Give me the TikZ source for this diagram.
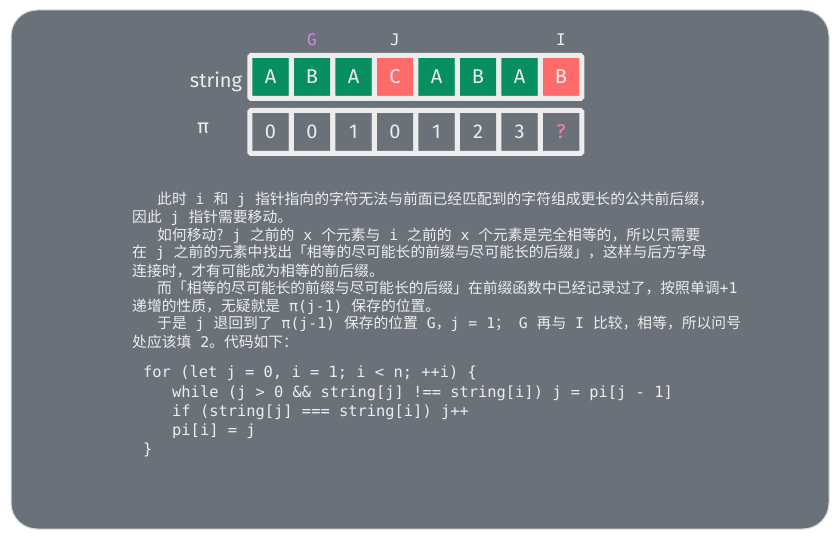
\documentclass[tikz,border=0pt]{standalone}
\usepackage{fontspec}
\setmainfont{Noto Sans CJK SC}
\newfontfamily\monof{DejaVu Sans Mono}
\newfontfamily\handf{Fira Sans}
\definecolor{bgc}{HTML}{6B7179}
\definecolor{grn}{HTML}{078F60}
\definecolor{redc}{HTML}{FF6B6B}
\definecolor{fg}{HTML}{EDEDED}
\definecolor{pinkq}{HTML}{F783AC}
\definecolor{vio}{HTML}{D08AE0}
\newcommand\m[1]{{\monof\fontsize{14.8}{17}\selectfont #1}}
\tikzset{
  cellbox/.style={minimum width=41.5pt, minimum height=43pt, draw=fg, line width=5pt,
    inner sep=0pt, rounded corners=1.5pt, text=fg, font=\handf\fontsize{20}{20}\selectfont},
  toplbl/.style={inner sep=0pt, font=\monof\fontsize{16}{16}\selectfont},
  rowlbl/.style={inner sep=0pt, text=fg, font=\handf\fontsize{20}{20}\selectfont},
  para/.style={inner sep=0pt, anchor=west, text=fg, font=\fontsize{14.8}{17}\selectfont},
  code/.style={inner sep=0pt, anchor=west, text=fg, font=\monof\fontsize{15.4}{17}\selectfont}
}
\begin{document}
\begin{tikzpicture}[x=1pt,y=-1pt]
\useasboundingbox (0,0) rectangle (840,540);
\draw[draw=fg!85!gray, line width=1pt, fill=bgc, rounded corners=26pt] (11,10) rectangle (829,529);
% string row
\foreach \ch/\c [count=\i] in {A/grn,B/grn,A/grn,C/redc,A/grn,B/grn,A/grn,B/redc}
  \node[cellbox, fill=\c] (s\i) at ({270.5+41.5*(\i-1)},77) {\ch};
% pi row
\foreach \ch/\c [count=\i] in {0/fg,0/fg,1/fg,0/fg,1/fg,2/fg,3/fg,?/pinkq}
  \node[cellbox, fill=bgc, text=\c] (p\i) at ({270.5+41.5*(\i-1)},132) {\ch};
% labels
\node[rowlbl] (lstr) at (216,82) {string};
\node[rowlbl] (lpi) at (203,128) {π};
\node[toplbl, text=vio] (lg) at (s2.center |- 0,40) {G};
\node[toplbl, text=fg] (lj) at (s4.center |- 0,40) {J};
\node[toplbl, text=fg] (li) at (s8.center |- 0,40) {I};
% paragraph
\node[para] (t1) at (157,200) {此时\m{~i~}和\m{~j~}指针指向的字符无法与前面已经匹配到的字符组成更长的公共前后缀，};
\node[para] (t2) at (132,218) {因此\m{~j~}指针需要移动。};
\node[para] (t3) at (157,235.5) {如何移动?\m{~j~}之前的\m{~x~}个元素与\m{~i~}之前的\m{~x~}个元素是完全相等的，所以只需要};
\node[para] (t4) at (132,253) {在\m{~j~}之前的元素中找出「相等的尽可能长的前缀与尽可能长的后缀」，这样与后方字母};
\node[para] (t5) at (132,271) {连接时，才有可能成为相等的前后缀。};
\node[para] (t6) at (157,288.5) {而「相等的尽可能长的前缀与尽可能长的后缀」在前缀函数中已经记录过了，按照单调\m{+1}};
\node[para] (t7) at (132,306.5) {递增的性质，无疑就是\m{~π(j-1)~}保存的位置。};
\node[para] (t8) at (157,324) {于是\m{~j~}退回到了\m{~π(j-1)~}保存的位置\m{~G}，\m{j = 1}；\m{~G~}再与\m{~I~}比较，相等，所以问号};
\node[para] (t9) at (132,342) {处应该填\m{~2}。代码如下：};
% code
\node[code] (c1) at (143,373) {for (let j = 0, i = 1; i < n; ++i) \{};
\node[code] (c2) at (172,393) {while (j > 0 \&\& string[j] !== string[i]) j = pi[j - 1]};
\node[code] (c3) at (172,412) {if (string[j] === string[i]) j++};
\node[code] (c4) at (172,431) {pi[i] = j};
\node[code] (c5) at (143,450) {\}};
\end{tikzpicture}
\end{document}
